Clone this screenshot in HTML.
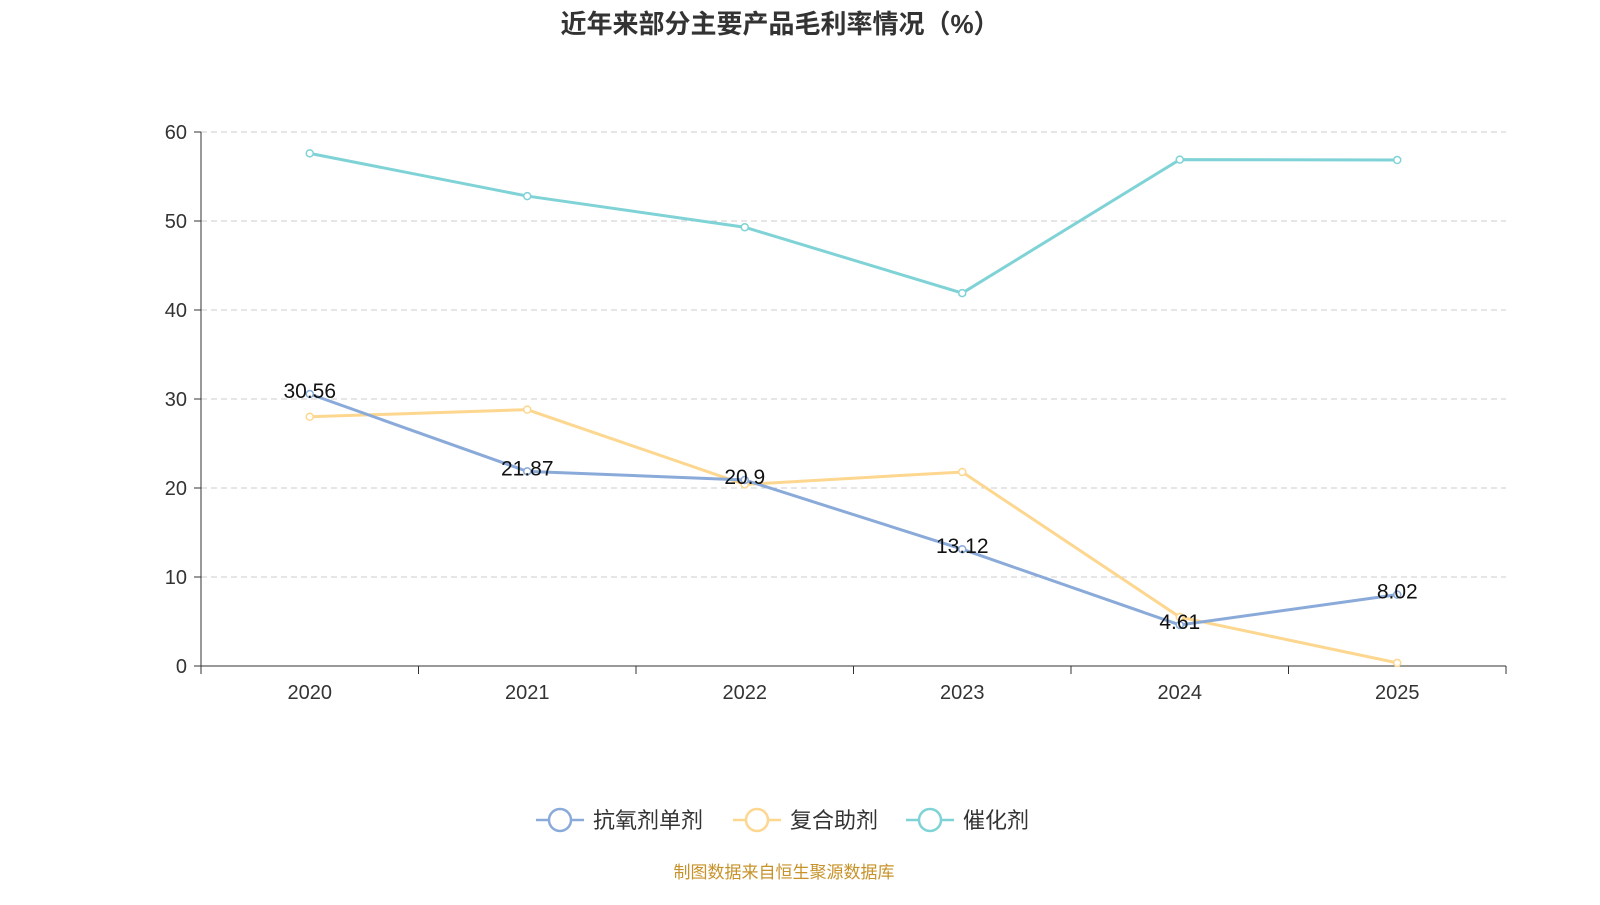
<!DOCTYPE html>
<html><head><meta charset="utf-8"><style>
body{margin:0;background:#fff;font-family:"Liberation Sans","Noto Sans CJK SC",sans-serif}
</style></head><body>
<svg id="c" width="1600" height="900" xmlns="http://www.w3.org/2000/svg" style="font-family:'Liberation Sans','Noto Sans CJK SC',sans-serif">
<text x="780" y="33" text-anchor="middle" font-size="26" font-weight="bold" fill="#333">近年来部分主要产品毛利率情况（%）</text>
<g id="grid"></g><g id="axes"></g><g id="series"></g><g id="legend"></g>
<text x="784" y="878" text-anchor="middle" font-size="17" fill="#c8922a">制图数据来自恒生聚源数据库</text>
</svg>
<script>
const categories=["2020","2021","2022","2023","2024","2025"];
const antioxidant=[30.56,21.87,20.9,13.12,4.61,8.02];
const compound=[28.0,28.8,20.4,21.8,5.5,0.35];
const catalyst=[57.6,52.8,49.3,41.9,56.9,56.85];
const yTicks=[0,10,20,30,40,50,60];
const seriesNames=["抗氧剂单剂","复合助剂","催化剂"];
const NS="http://www.w3.org/2000/svg";
const L=201,R=1506,T=132,B=666,band=(R-L)/categories.length;
const x=i=>L+band*(i+0.5);
const y=v=>B-(v/60)*(B-T);
function mk(tag,attrs,parent,text){const e=document.createElementNS(NS,tag);for(const k in attrs)e.setAttribute(k,attrs[k]);if(text!==undefined)e.textContent=text;parent.appendChild(e);return e;}
const grid=document.getElementById('grid'),axes=document.getElementById('axes'),ser=document.getElementById('series'),leg=document.getElementById('legend');
yTicks.forEach(t=>{
 if(t>0){const g=mk('line',{x1:L,x2:R,y1:y(t),y2:y(t),stroke:'#ccc','stroke-dasharray':'6,4'},grid);
 
 }
 const tk=mk('line',{x1:L-7,x2:L,y1:y(t),y2:y(t),stroke:'#333'},axes);
 
 
 const lb=mk('text',{x:L-14,y:y(t)+7,'text-anchor':'end','font-size':20,fill:'#333'},axes,t);
 
 
});
const ya=mk('line',{x1:L,x2:L,y1:T,y2:B,stroke:'#333'},axes);


const xa=mk('line',{x1:L,x2:R,y1:B,y2:B,stroke:'#333'},axes);


for(let i=0;i<=categories.length;i++){const tk=mk('line',{x1:L+band*i,x2:L+band*i,y1:B,y2:B+8,stroke:'#333'},axes);
 
 }
categories.forEach((c,i)=>{const t=mk('text',{x:x(i),y:B+33,'text-anchor':'middle','font-size':20,fill:'#333'},axes,c);
 
 });
const colors=['#8aaad9','#fdd78f','#7fd3d6'];
const data=[antioxidant,compound,catalyst];
[2,1,0].forEach(s=>{
 const d=data[s];
 const p=mk('polyline',{points:d.map((v,i)=>x(i)+','+y(v)).join(' '),fill:'none',stroke:colors[s],'stroke-width':3},ser);
 
 
 d.forEach((v,i)=>{const c=mk('circle',{cx:x(i),cy:y(v),r:3.5,fill:'#fff',stroke:colors[s],'stroke-width':1.5},ser);
  
  });
});
antioxidant.forEach((v,i)=>{const t=mk('text',{x:x(i),y:y(v)+4,'text-anchor':'middle','font-size':21,fill:'#111'},ser,v);
 
 });
const lx=[536,733,906];
seriesNames.forEach((n,i)=>{
 const g=mk('g',{},leg);
 
 
 mk('line',{x1:lx[i],x2:lx[i]+48,y1:820,y2:820,stroke:colors[i],'stroke-width':2.5},g);
 mk('circle',{cx:lx[i]+24,cy:820,r:11,fill:'#fff',stroke:colors[i],'stroke-width':2.5},g);
 mk('text',{x:lx[i]+57,y:828,'font-size':22,fill:'#333'},g,n);
});
</script>
</body></html>
